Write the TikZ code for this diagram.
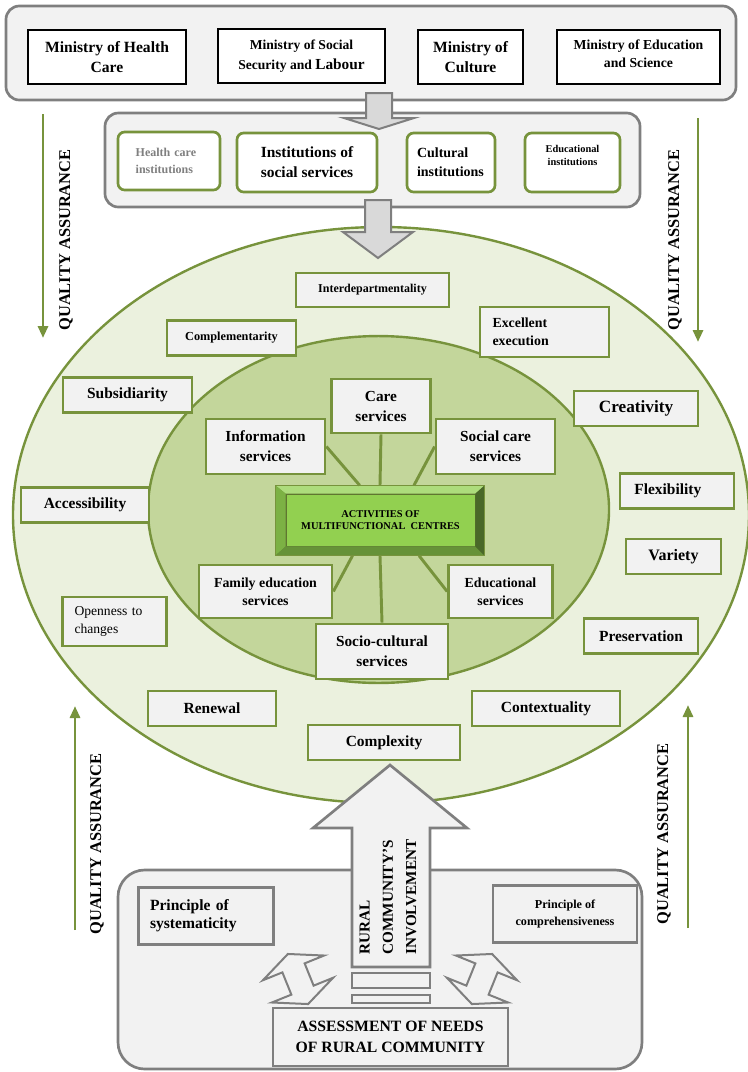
\documentclass[tikz,border=0pt]{standalone}
\usepackage{fontspec}
\setmainfont{Liberation Serif}
\usetikzlibrary{arrows.meta, positioning, calc}

\definecolor{leafline}{HTML}{77933C}
\definecolor{boxgray}{HTML}{F2F2F2}
\definecolor{linegray}{HTML}{7F7F7F}
\definecolor{arrowgray}{HTML}{D9D9D9}
\definecolor{paleleaf}{HTML}{EBF1DE}
\definecolor{midleaf}{HTML}{C3D69B}
\definecolor{brightleaf}{HTML}{92D050}

\tikzset{
  sz/.style 2 args={minimum width=#1*0.75pt, minimum height=#2*0.75pt},
  ministry/.style={draw=black, line width=0.9pt, fill=white, inner sep=0pt, align=center, font=\bfseries\fontsize{11.7}{15.5}\selectfont},
  institution/.style={draw=leafline, line width=2pt, fill=white, rounded corners=5pt, inner sep=0pt, align=center, font=\bfseries},
  principle/.style={draw=leafline, line width=2pt, fill=boxgray, inner sep=0pt, align=center, font=\bfseries\fontsize{11.6}{13}\selectfont},
  service/.style={principle, font=\bfseries\fontsize{11.5}{15}\selectfont},
  panel/.style={draw=linegray, line width=2pt, fill=boxgray},
  graybox/.style={panel, inner sep=0pt, align=center, font=\bfseries\fontsize{11.7}{13.5}\selectfont},
  blockarrow/.style={draw=linegray, line width=1.5pt, fill=arrowgray},
  spoke/.style={draw=leafline, line width=2.2pt},
  quality/.style={draw=leafline, line width=2.2pt, -{Triangle[length=9pt, width=7.5pt]}},
  qualitytext/.style={rotate=90, inner sep=0pt, font=\bfseries\fontsize{12.3}{14}\selectfont},
}

\begin{document}
\begin{tikzpicture}[x=0.75pt, y=-0.75pt]
\useasboundingbox (0,0) rectangle (748,1072);

% Ministries
\draw[panel, rounded corners=10pt] (6,6) rectangle (736,100);
\node[ministry, sz={158}{54}] (minhealth) at (107,57) {Ministry of Health\\Care};
\node[ministry, sz={167}{54}, font=\bfseries\fontsize{10.2}{15}\selectfont] (minsocial) at (301.5,56) {Ministry of Social\\Security and {\fontsize{11.5}{15}\selectfont Labour}};
\node[ministry, sz={105}{54}] (minculture) at (470.5,57) {Ministry of\\Culture};
\node[ministry, sz={163}{54}, font=\bfseries\fontsize{10.3}{14}\selectfont, text depth=5pt] (mineducation) at (638.5,57) {Ministry of Education\\and Science};

% Institutions
\draw[panel, rounded corners=10pt] (105,113) rectangle (640,207);
\node[institution, sz={102}{58}, text=linegray, font=\bfseries\fontsize{9}{12.5}\selectfont, text width=50pt, align=left] (insthealth) at (169,161) {Health care\\institutions};
\node[institution, sz={140}{59}, font=\bfseries\fontsize{11.6}{15}\selectfont] (instsocial) at (307,162.5) {Institutions of\\social services};
\node[institution, sz={88}{59}, font=\bfseries\fontsize{10.5}{14}\selectfont, text width=51pt, align=left] (instculture) at (451,162.5) {Cultural\\institutions};
\node[institution, sz={95}{59}, font=\bfseries\fontsize{7.8}{10}\selectfont, text depth=11pt] (insteducation) at (572.5,162.5) {Educational\\institutions};

% Arrow from ministries to institutions
\draw[blockarrow] (366,93) -- (392,93) -- (392,118) -- (414,118) -- (379,129) -- (344,118) -- (366,118) -- cycle;

% Circles of principles
\fill[paleleaf, draw=leafline, line width=1.8pt] (381,515) ellipse [x radius=276pt, y radius=216pt];
\fill[midleaf, draw=leafline, line width=1.8pt] (378.5,509.5) ellipse [x radius=172.9pt, y radius=130.1pt];

% Arrow from institutions to the centre
\draw[blockarrow] (365,200) -- (391,200) -- (391,232) -- (413,232) -- (378,258) -- (343,232) -- (365,232) -- cycle;

% Principles
\node[principle, sz={153}{34}, font=\bfseries\fontsize{9}{10}\selectfont] (interdep) at (372.5,290) {Interdepartmentality};
\node[principle, sz={129}{35}, font=\bfseries\fontsize{9.2}{10}\selectfont] (complement) at (231.5,338) {Complementarity};
\node[principle, sz={129}{50}, font=\bfseries\fontsize{10.4}{13.5}\selectfont, text width=78pt, align=left] (excellent) at (544.5,332) {Excellent\\execution};
\node[principle, sz={129}{35}] (subsid) at (127.5,395) {Subsidiarity};
\node[principle, sz={124}{35}, font=\bfseries\fontsize{12.9}{14}\selectfont] (creativity) at (636,408.5) {Creativity};
\node[principle, sz={128}{35}] (access) at (85,505) {Accessibility};
\node[principle, sz={114}{35}, text width=64pt, align=left] (flex) at (677,491) {Flexibility};
\node[principle, sz={95}{35}, font=\bfseries\fontsize{12}{13}\selectfont] (variety) at (673.5,556.5) {Variety};
\node[principle, sz={104}{49}, font=\fontsize{10.2}{13.5}\selectfont, text width=60pt, align=left] (openness) at (114.5,621.5) {Openness to\\changes};
\node[principle, sz={114}{35}] (preserv) at (641,636) {Preservation};
\node[principle, sz={128}{35}] (renewal) at (212,708.5) {Renewal};
\node[principle, sz={148}{35}] (context) at (546,708.5) {Contextuality};
\node[principle, sz={152}{35}] (complexity) at (384,742.5) {Complexity};

% Activities of multifunctional centres
\node[draw=leafline, line width=1pt, fill=leafline!85!black, sz={208}{69}] (ctr) at (380,520.5) {};
\node[draw=leafline!80!black, line width=0.6pt, fill=brightleaf, sz={189}{52}, align=center, font=\bfseries\fontsize{7.8}{9.5}\selectfont] (ctrface) at (380.5,520) {ACTIVITIES OF\\MULTIFUNCTIONAL\ \ CENTRES};
\fill[brightleaf!75!white] (ctr.north west) -- (ctr.north east) -- (ctrface.north east) -- (ctrface.north west) -- cycle;
\fill[brightleaf!85!black] (ctr.north west) -- (ctrface.north west) -- (ctrface.south west) -- (ctr.south west) -- cycle;
\fill[brightleaf!70!black] (ctr.south west) -- (ctrface.south west) -- (ctrface.south east) -- (ctr.south east) -- cycle;
\fill[brightleaf!50!black] (ctr.north east) -- (ctr.south east) -- (ctrface.south east) -- (ctrface.north east) -- cycle;
\draw[leafline, line width=1pt] (ctr.north west) rectangle (ctr.south east);

% Services
\node[service, sz={99}{54}] (care) at (381,406) {Care\\services};
\node[service, sz={119}{55}] (info) at (265.5,446.5) {Information\\services};
\node[service, sz={119}{55}] (socialcare) at (495.5,446.5) {Social care\\services};
\node[service, sz={133}{53}, font=\bfseries\fontsize{10.4}{13.5}\selectfont] (family) at (265.5,591.5) {Family education\\services};
\node[service, sz={104}{53}, font=\bfseries\fontsize{10.4}{13.5}\selectfont] (educ) at (500.5,591.5) {Educational\\services};
\node[service, sz={132}{55}] (socio) at (382,651.5) {Socio-cultural\\services};

\draw[spoke] (ctr.north) -- (care.south);
\draw[spoke] (ctr.120) -- (info.east);
\draw[spoke] (ctr.46) -- (socialcare.west);
\draw[spoke] (ctr.232) -- (family.east);
\draw[spoke] (ctr.318) -- (educ.west);
\draw[spoke] (ctr.south) -- (socio.north);

% Quality assurance
\coordinate (qa1s) at (43,114);  \coordinate (qa1e) at (43,338);
\coordinate (qa2s) at (698,118); \coordinate (qa2e) at (698,342);
\coordinate (qa3s) at (75,930);  \coordinate (qa3e) at (75,706);
\coordinate (qa4s) at (688,928); \coordinate (qa4e) at (688,705);
\draw[quality] (qa1s) -- (qa1e);
\draw[quality] (qa2s) -- (qa2e);
\draw[quality] (qa3s) -- (qa3e);
\draw[quality] (qa4s) -- (qa4e);
\node[qualitytext] (qa1lab) at (66,240) {QUALITY ASSURANCE};
\node[qualitytext] (qa2lab) at (675,240) {QUALITY ASSURANCE};
\node[qualitytext] (qa3lab) at (97,844) {QUALITY ASSURANCE};
\node[qualitytext] (qa4lab) at (664,834) {QUALITY ASSURANCE};

% Rural community
\draw[panel, rounded corners=20pt] (118,870) rectangle (642,1069);
\node[graybox, sz={135}{57}, text width=84pt, align=left] (systematic) at (206,916) {Principle of\\systematicity};
\node[graybox, sz={144}{57}, font=\bfseries\fontsize{9.1}{13}\selectfont] (comprehensive) at (565,914) {Principle of\\comprehensiveness};
\node[graybox, sz={235}{58}, font=\bfseries\fontsize{11.8}{16}\selectfont] (assessment) at (390.5,1037) {ASSESSMENT OF NEEDS\\OF RURAL COMMUNITY};

\draw[blockarrow, fill=boxgray, line width=2pt] (352,967) -- (352,828) -- (313,828) -- (390,765) -- (467,828) -- (430,828) -- (430,967) -- cycle;
\node[rotate=90, align=left, inner sep=0pt, font=\bfseries\fontsize{11.4}{17.5}\selectfont] (involvement) at (388,897) {RURAL\\COMMUNITY'S\\INVOLVEMENT};
\draw[panel, line width=1.5pt] (352,973) rectangle (430,988);
\draw[panel, line width=1.5pt] (352,995) rectangle (430,1003);

\begin{scope}[shift={(298,979)}, rotate=22]
  \draw[blockarrow, fill=boxgray] (0,-27) -- (33,-12) -- (12,-12) -- (12,12) -- (33,12) -- (0,27) -- (-33,12) -- (-12,12) -- (-12,-12) -- (-33,-12) -- cycle;
\end{scope}
\begin{scope}[shift={(482,979)}, rotate=-22]
  \draw[blockarrow, fill=boxgray] (0,-27) -- (33,-12) -- (12,-12) -- (12,12) -- (33,12) -- (0,27) -- (-33,12) -- (-12,12) -- (-12,-12) -- (-33,-12) -- cycle;
\end{scope}
\end{tikzpicture}
\end{document}
